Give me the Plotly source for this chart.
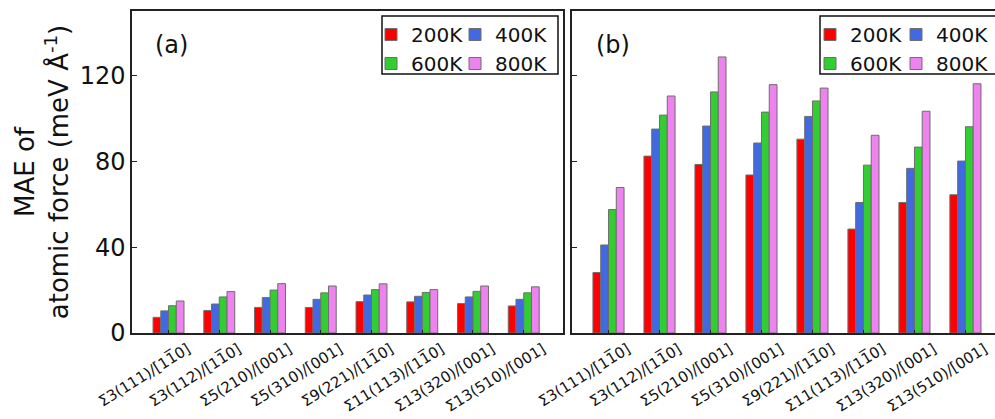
import plotly.graph_objects as go

# Grain-boundary labels (overline on the second index of [1-10])
boundaries = [
    "Σ3(111)/[11\u03050]",
    "Σ3(112)/[11\u03050]",
    "Σ5(210)/[001]",
    "Σ5(310)/[001]",
    "Σ9(221)/[11\u03050]",
    "Σ11(113)/[11\u03050]",
    "Σ13(320)/[001]",
    "Σ13(510)/[001]",
]
temperatures = ["200K", "400K", "600K", "800K"]
colors = ["#ff0000", "#4169e1", "#32cd32", "#ee82ee"]

# (a) MAE of atomic force, meV/Å
mae_a_200 = [7.3, 10.5, 11.9, 11.9, 14.6, 14.5, 13.7, 12.6]
mae_a_400 = [10.3, 13.5, 16.5, 15.7, 17.7, 17.1, 16.8, 15.7]
mae_a_600 = [12.7, 16.8, 20.0, 18.7, 20.2, 18.9, 19.4, 18.7]
mae_a_800 = [14.9, 19.3, 23.0, 21.9, 22.9, 20.2, 21.9, 21.5]

# (b) MAE of atomic force, meV/Å
mae_b_200 = [28.2, 82.4, 78.5, 73.6, 90.3, 48.4, 60.8, 64.4]
mae_b_400 = [41.0, 95.0, 96.4, 88.5, 100.9, 60.8, 76.7, 80.1]
mae_b_600 = [57.5, 101.5, 112.3, 102.9, 108.1, 78.2, 86.6, 96.1]
mae_b_800 = [67.8, 110.4, 128.6, 115.7, 114.1, 92.1, 103.3, 116.1]

yticks = [0, 40, 80, 120]

panel_a = [mae_a_200, mae_a_400, mae_a_600, mae_a_800]
panel_b = [mae_b_200, mae_b_400, mae_b_600, mae_b_800]

FONT = "DejaVu Sans"
AXC = "#222222"

W, H = 995, 419
ML, MR, MT, MB = 132, 0, 11, 86
PW, PH = W - ML - MR, H - MT - MB


def px_x(p):
    return (p - ML) / PW


def px_y(p):
    return (H - MB - p) / PH


fig = go.Figure()

# legends: first column holds 200K/600K, second 400K/800K
legend_of = {
    ("a", 0): "legend", ("a", 2): "legend",
    ("a", 1): "legend2", ("a", 3): "legend2",
    ("b", 0): "legend3", ("b", 2): "legend3",
    ("b", 1): "legend4", ("b", 3): "legend4",
}

for panel, data, xa, ya in [("a", panel_a, "x", "y"), ("b", panel_b, "x2", "y2")]:
    for i, (t, c, vals) in enumerate(zip(temperatures, colors, data)):
        fig.add_trace(go.Bar(
            x=list(range(len(boundaries))), y=vals, name=t,
            marker=dict(color=c, line=dict(color="#6e6e6e", width=1)),
            xaxis=xa, yaxis=ya, legend=legend_of[(panel, i)],
            legendrank=i,
        ))

xcommon = dict(
    tickmode="array", tickvals=list(range(len(boundaries))), ticktext=boundaries,
    tickangle=-32, tickfont=dict(family=FONT, size=15, color="#111"),
    ticks="inside", ticklen=3, tickwidth=1.2, tickcolor=AXC,
    showline=True, linecolor=AXC, linewidth=1.5, mirror=True,
    showgrid=False, zeroline=False, ticklabelshift=19, automargin=False,
)
ycommon = dict(
    range=[0, 150], tickvals=yticks, ticks="inside", ticklen=5, tickwidth=1.2,
    tickcolor=AXC, showline=True, linecolor=AXC, linewidth=1.5,
    showgrid=False, zeroline=False, automargin=False,
    tickfont=dict(family=FONT, size=24, color="#111"),
)

dom_a = [0, (563.3 - ML) / PW]
dom_b = [(572.3 - ML) / PW, 1]

legend_style = dict(
    orientation="v", bgcolor="rgba(0,0,0,0)", borderwidth=0,
    font=dict(family=FONT, size=20, color="#111"),
    xanchor="left", yanchor="top", traceorder="normal",
    tracegroupgap=0, itemclick=False, itemdoubleclick=False,
)
legend_top = px_y(15)

fig.update_layout(
    width=W, height=H,
    margin=dict(l=ML, r=MR, t=MT, b=MB, autoexpand=False),
    paper_bgcolor="white", plot_bgcolor="white",
    barmode="group", bargap=0.39, bargroupgap=0,
    font=dict(family=FONT, color="#111"),
    xaxis=dict(domain=dom_a, range=[-0.72, 7.78], anchor="y", **xcommon),
    yaxis=dict(
        domain=[0, 1], anchor="x", mirror=True,
        title=dict(
            text="MAE of<br>atomic force (meV Å<sup>-1</sup>)",
            font=dict(family=FONT, size=26, color="#111"), standoff=4,
        ),
        **ycommon,
    ),
    xaxis2=dict(domain=dom_b, range=[-0.71, 7.58], anchor="y2", **xcommon),
    yaxis2=dict(domain=[0, 1], anchor="x2", mirror=False, showticklabels=False, **ycommon),
    legend=dict(x=px_x(371), y=legend_top, **legend_style),
    legend2=dict(x=px_x(455), y=legend_top, **legend_style),
    legend3=dict(x=px_x(810), y=legend_top, **legend_style),
    legend4=dict(x=px_x(896), y=legend_top, **legend_style),
    showlegend=True,
)

# frames around the two legends
for x0, x1 in [(382, 558), (820, 996)]:
    fig.add_shape(
        type="rect", xref="paper", yref="paper",
        x0=px_x(x0), x1=px_x(x1), y0=px_y(74), y1=px_y(16),
        line=dict(color="#111", width=1.5), fillcolor="rgba(0,0,0,0)",
    )

# panel letters
for label, xc in [("(a)", 171), ("(b)", 613)]:
    fig.add_annotation(
        text=label, xref="paper", yref="paper", x=px_x(xc), y=px_y(45),
        xanchor="center", yanchor="middle", showarrow=False,
        font=dict(family=FONT, size=24, color="#111"),
    )

fig.write_html("out.html")
